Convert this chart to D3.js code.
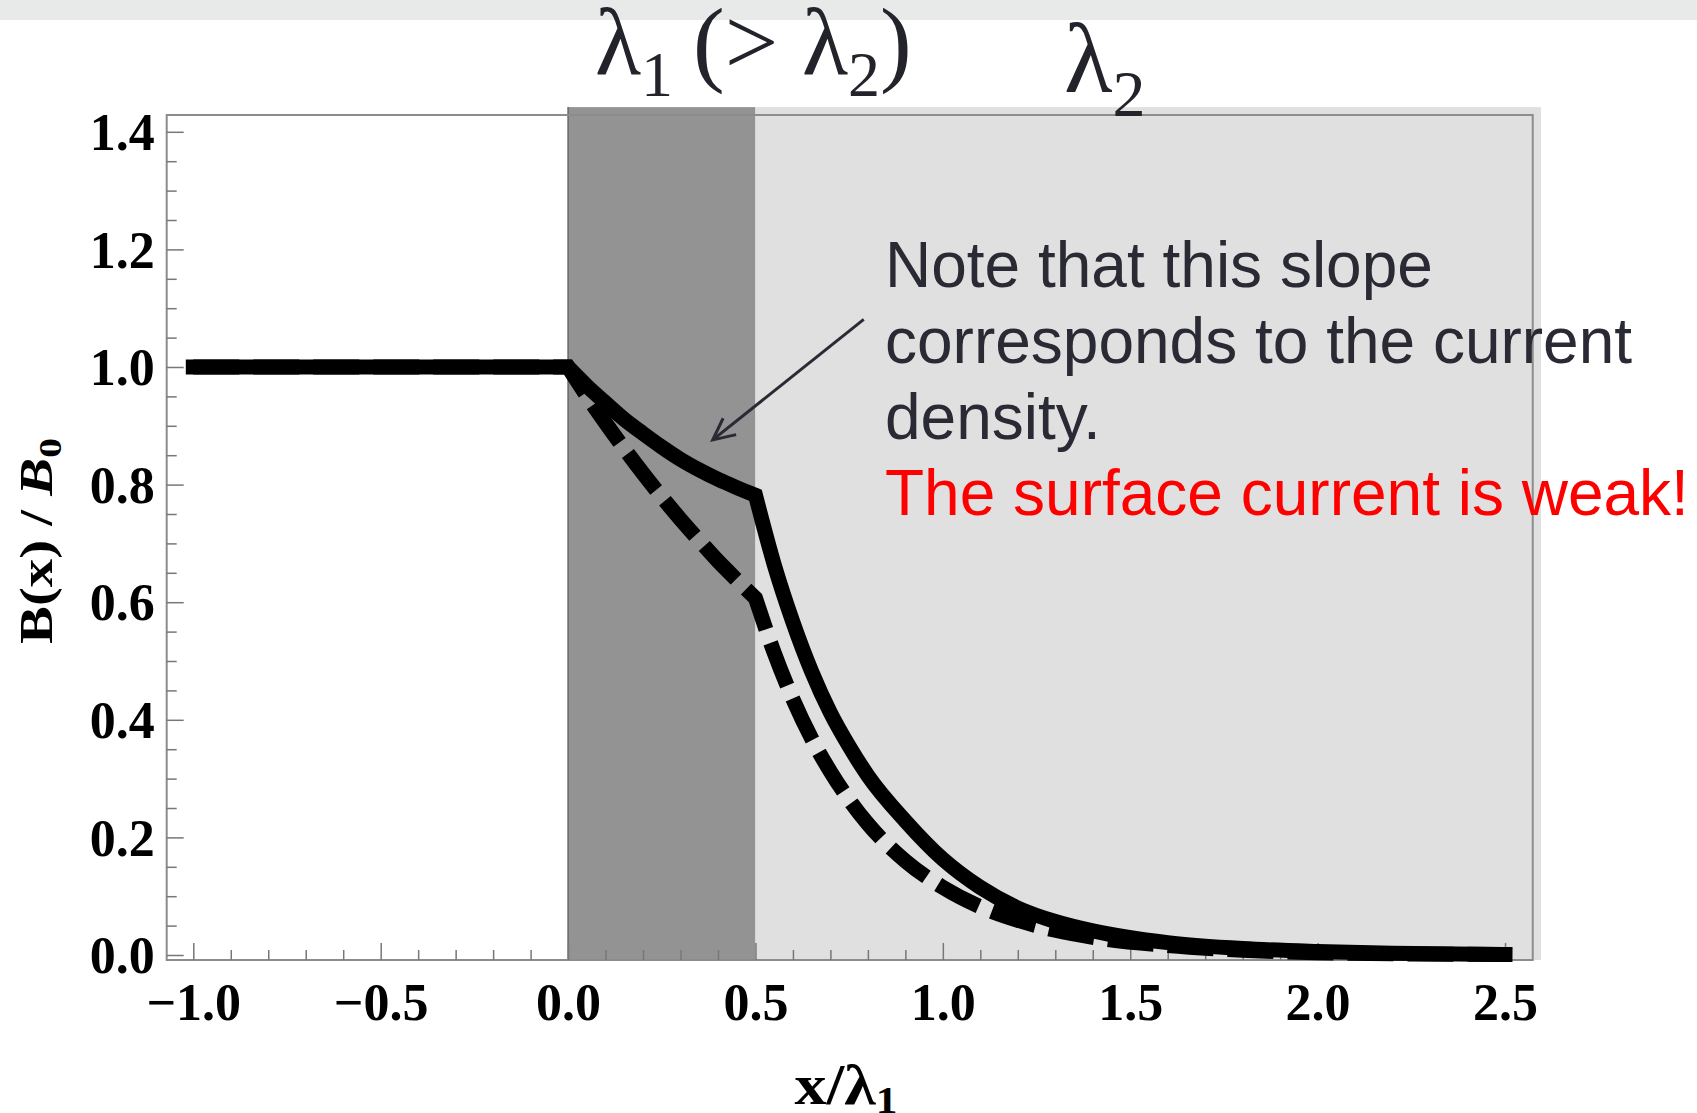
<!DOCTYPE html>
<html>
<head>
<meta charset="utf-8">
<script src="https://cdn.jsdelivr.net/npm/d3@7"></script>
<style>
  html, body { margin: 0; padding: 0; background: #fff; overflow: hidden; }
  svg { display: block; }
</style>
</head>
<body>
<svg id="chart"></svg>
<script>
// x / lambda1 sample positions, shared by both curves
const xs = [-1.0, 0.0, 0.05, 0.1, 0.15, 0.2, 0.25, 0.3, 0.35, 0.4, 0.45, 0.5,
  0.55, 0.6, 0.65, 0.7, 0.75, 0.8, 0.9, 1.0, 1.1, 1.2, 1.3, 1.4, 1.6, 1.8, 2.0, 2.2, 2.5]
// two-layer case (solid)
const solidB = [1.0, 1.0, 0.968, 0.939, 0.911, 0.887, 0.864, 0.843, 0.825, 0.809, 0.795, 0.782,
  0.664, 0.566, 0.482, 0.412, 0.355, 0.305, 0.228, 0.163, 0.115, 0.080, 0.057, 0.041, 0.021, 0.011, 0.006, 0.003, 0.001]
// single-layer reference (dashed)
const dashedB = [1.0, 1.0, 0.951, 0.905, 0.861, 0.819, 0.779, 0.741, 0.705, 0.670, 0.638, 0.607,
  0.514, 0.435, 0.368, 0.312, 0.264, 0.223, 0.160, 0.115, 0.082, 0.059, 0.042, 0.030, 0.016, 0.008, 0.004, 0.002, 0.001]
// kinks of the field profile (layer boundaries)
const kinks = [0.0, 0.5]

const xMajor = [-1.0, -0.5, 0.0, 0.5, 1.0, 1.5, 2.0, 2.5]
const xMajorLabels = ["\u22121.0", "\u22120.5", "0.0", "0.5", "1.0", "1.5", "2.0", "2.5"]
const yMajor = [0.0, 0.2, 0.4, 0.6, 0.8, 1.0, 1.2, 1.4]
const yMajorLabels = ["0.0", "0.2", "0.4", "0.6", "0.8", "1.0", "1.2", "1.4"]

// layer regions (x / lambda1)
const layerNames = ["lambda1", "lambda2"]
const layerFrom = [0.0, 0.5]
const layerTo = [0.5, 2.596]
const layerFill = ["#939393", "#e0e0e0"]

const noteLines = ["Note that this slope", "corresponds to the current", "density."]
const redLine = "The surface current is weak!"

const W = 1697, H = 1113
const svg = d3.select("#chart").attr("width", W).attr("height", H)

const x = d3.scaleLinear().domain([-1, 2.5]).range([193.3, 1505])
const y = d3.scaleLinear().domain([0, 1.4]).range([955, 131.8])
const frameX = [-1.071, 2.574]
const frameY = [-0.0085, 1.4286]
const shadeTop = 1.442
const serif = "'Liberation Serif', 'Times New Roman', serif"

// top strip
svg.append("rect").attr("x", 0).attr("y", 0).attr("width", W).attr("height", 20).attr("fill", "#e8eaea")

// layer shading
svg.append("g").selectAll("rect").data(layerNames).join("rect")
  .attr("x", (d, i) => x(layerFrom[i]))
  .attr("width", (d, i) => x(layerTo[i]) - x(layerFrom[i]))
  .attr("y", y(shadeTop))
  .attr("height", y(frameY[0]) - y(shadeTop))
  .attr("fill", (d, i) => layerFill[i])

svg.append("line")
  .attr("x1", x(0)).attr("x2", x(0)).attr("y1", y(shadeTop)).attr("y2", y(frameY[0]))
  .attr("stroke", "#666").attr("stroke-width", 1.5)

// frame
svg.append("rect")
  .attr("x", x(frameX[0])).attr("y", y(frameY[1]))
  .attr("width", x(frameX[1]) - x(frameX[0]))
  .attr("height", y(frameY[0]) - y(frameY[1]))
  .attr("fill", "none").attr("stroke", "#8c8c8c").attr("stroke-width", 2)

const xAxisY = y(frameY[0])
const yAxisX = x(frameX[0])
const tickColor = "#777"

// minor ticks
const xMinor = d3.range(-1.0, 2.51, 0.1).filter(v => Math.abs(v * 2 - Math.round(v * 2)) > 1e-6)
const yMinor = d3.range(0, 1.401, 0.05).filter(v => Math.abs(v * 5 - Math.round(v * 5)) > 1e-6)

const gxMinor = svg.append("g").attr("transform", `translate(0,${xAxisY})`)
  .call(d3.axisBottom(x).tickValues(xMinor).tickSize(-10).tickFormat(""))
const gyMinor = svg.append("g").attr("transform", `translate(${yAxisX},0)`)
  .call(d3.axisLeft(y).tickValues(yMinor).tickSize(-10).tickFormat(""))

const gx = svg.append("g").attr("transform", `translate(0,${xAxisY})`)
  .call(d3.axisBottom(x).tickValues(xMajor).tickSize(-17).tickPadding(23)
    .tickFormat((d, i) => xMajorLabels[i]))
const gy = svg.append("g").attr("transform", `translate(${yAxisX},0)`)
  .call(d3.axisLeft(y).tickValues(yMajor).tickSize(-17).tickPadding(12)
    .tickFormat((d, i) => yMajorLabels[i]))

for (const g of [gxMinor, gyMinor, gx, gy]) {
  g.select(".domain").remove()
  g.selectAll(".tick line").attr("stroke", tickColor).attr("stroke-width", 1.5)
}
for (const g of [gx, gy]) {
  g.selectAll(".tick text")
    .attr("font-family", serif)
    .attr("font-weight", "bold").attr("font-size", 52).attr("fill", "#000")
}
gy.selectAll(".tick text").attr("dy", "0.34em")

// curves: smooth inside each layer, sharp at the layer boundaries
function piecewisePath(pts) {
  const cuts = [-Infinity, ...kinks, Infinity]
  const seg = d3.line().x(d => x(d[0])).y(d => y(d[1])).curve(d3.curveMonotoneX)
  let dStr = ""
  for (let k = 0; k < cuts.length - 1; k += 1) {
    const part = pts.filter(p => p[0] >= cuts[k] && p[0] <= cuts[k + 1])
    if (part.length < 2) continue
    const s = seg(part)
    dStr += dStr ? "L" + s.slice(1) : s
  }
  return dStr
}
const solidPts = xs.map((v, i) => [v, solidB[i]])
const dashedPts = xs.map((v, i) => [v, dashedB[i]])

svg.append("path").attr("d", piecewisePath(dashedPts))
  .attr("fill", "none").attr("stroke", "#000").attr("stroke-width", 15)
  .attr("stroke-dasharray", "46,14")
svg.append("path").attr("d", piecewisePath(solidPts))
  .attr("fill", "none").attr("stroke", "#000").attr("stroke-width", 15)
  .attr("stroke-linecap", "square").attr("stroke-linejoin", "miter")

// arrow (in data coordinates)
const arrowFrom = [0.789, 1.081], arrowTo = [0.386, 0.876]
const ax0 = x(arrowFrom[0]), ay0 = y(arrowFrom[1]), ax1 = x(arrowTo[0]), ay1 = y(arrowTo[1])
const ang = Math.atan2(ay1 - ay0, ax1 - ax0)
const hl = 24, spread = 0.45
const arrowColor = "#2a2a35"
svg.append("line").attr("x1", ax0).attr("y1", ay0).attr("x2", ax1).attr("y2", ay1)
  .attr("stroke", arrowColor).attr("stroke-width", 3)
svg.append("path")
  .attr("d", `M${ax1 - hl * Math.cos(ang - spread)},${ay1 - hl * Math.sin(ang - spread)}L${ax1},${ay1}L${ax1 - hl * Math.cos(ang + spread)},${ay1 - hl * Math.sin(ang + spread)}`)
  .attr("fill", "none").attr("stroke", arrowColor).attr("stroke-width", 3)

// annotation
const note = svg.append("g").attr("font-family", "'Liberation Sans', Arial, sans-serif").attr("font-size", 64)
noteLines.forEach((t, i) => {
  note.append("text").attr("x", 885).attr("y", 287 + i * 76).attr("fill", "#2a2a35").text(t)
})
note.append("text").attr("x", 885).attr("y", 515).attr("fill", "#ff0000").text(redLine)

// layer headings
const h1 = svg.append("text").attr("x", 595).attr("y", 74).attr("font-family", serif)
  .attr("font-size", 95).attr("fill", "#23232b")
h1.append("tspan").text("\u03bb")
h1.append("tspan").attr("font-size", 64).attr("dy", 22).text("1")
h1.append("tspan").attr("dy", -22).attr("dx", 20).text("(> \u03bb")
h1.append("tspan").attr("font-size", 64).attr("dy", 22).text("2")
h1.append("tspan").attr("dy", -22).text(")")

const h2 = svg.append("text").attr("x", 1064).attr("y", 92).attr("font-family", serif)
  .attr("font-size", 100).attr("fill", "#23232b")
h2.append("tspan").text("\u03bb")
h2.append("tspan").attr("font-size", 66).attr("dy", 24).text("2")

// axis labels
const xl = svg.append("text").attr("x", 846).attr("y", 1104).attr("text-anchor", "middle")
  .attr("font-family", serif).attr("font-weight", "bold").attr("font-size", 56).attr("fill", "#000")
  .attr("textLength", 103).attr("lengthAdjust", "spacingAndGlyphs")
xl.append("tspan").text("x/\u03bb")
xl.append("tspan").attr("font-size", 38).attr("dy", 9).text("1")

const yl = svg.append("text").attr("transform", "translate(52,541) rotate(-90)").attr("text-anchor", "middle")
  .attr("font-family", serif).attr("font-weight", "bold").attr("font-size", 46).attr("fill", "#000")
  .attr("textLength", 206).attr("lengthAdjust", "spacingAndGlyphs")
yl.append("tspan").text("B(x) / ")
yl.append("tspan").attr("font-style", "italic").text("B")
yl.append("tspan").attr("font-size", 32).attr("dy", 9).text("0")
</script>
</body>
</html>
